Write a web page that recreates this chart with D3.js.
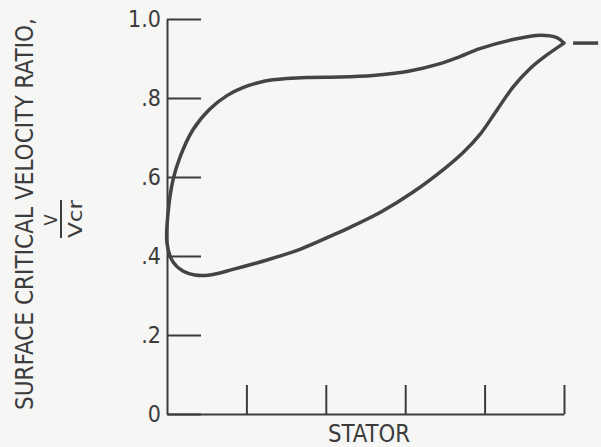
<!DOCTYPE html>
<html>
<head>
<meta charset="utf-8">
<script src="https://cdn.jsdelivr.net/npm/d3@7/dist/d3.min.js"></script>
<style>
  html, body { margin: 0; padding: 0; background: #f6f6f4; }
  svg { display: block; }
  text { font-family: "DejaVu Sans Condensed", "Liberation Sans Narrow", "DejaVu Sans", sans-serif; fill: #3c3c3c; }
</style>
</head>
<body>
<script>
// ---- data ----
const yTickValues = [0, 0.2, 0.4, 0.6, 0.8, 1.0];
const yTickLabels = ["0", ".2", ".4", ".6", ".8", "1.0"];
const xTickValues = [0.2, 0.4, 0.6, 0.8, 1.0];
const xLabel = "STATOR";
const yTitle = "SURFACE CRITICAL VELOCITY RATIO,";
const fracTop = "V";
const fracBottom = "Vcr";

// lower (pressure) surface from trailing edge back to leading edge
const lowerX = [1.0, 0.957, 0.914, 0.872, 0.830, 0.790, 0.746, 0.700, 0.620, 0.540, 0.460, 0.418, 0.335, 0.252, 0.166, 0.108, 0.070, 0.040, 0.015, 0.0];
const lowerY = [0.939, 0.909, 0.874, 0.828, 0.768, 0.710, 0.662, 0.622, 0.562, 0.512, 0.472, 0.453, 0.417, 0.390, 0.366, 0.352, 0.352, 0.362, 0.385, 0.432];
// upper (suction) surface from leading edge to trailing edge
const upperX = [0.003, 0.015, 0.033, 0.065, 0.108, 0.151, 0.191, 0.227, 0.267, 0.353, 0.436, 0.519, 0.605, 0.688, 0.738, 0.788, 0.872, 0.940, 0.982, 1.0];
const upperY = [0.512, 0.592, 0.651, 0.719, 0.772, 0.806, 0.826, 0.838, 0.846, 0.852, 0.853, 0.857, 0.867, 0.887, 0.905, 0.925, 0.948, 0.959, 0.953, 0.939];
// downstream dash
const dashX = [1.023, 1.086];
const dashY = [0.939, 0.939];

// ---- drawing ----
const W = 601, H = 447;
const svg = d3.select("body").append("svg").attr("width", W).attr("height", H);

const x = d3.scaleLinear().domain([0, 1]).range([167, 564]);
const y = d3.scaleLinear().domain([0, 1]).range([414, 19]);

const yAxis = d3.axisLeft(y)
  .tickValues(yTickValues)
  .tickFormat((d, i) => yTickLabels[i])
  .tickSizeInner(-34)
  .tickSizeOuter(0)
  .tickPadding(6);

const gy = svg.append("g").attr("transform", `translate(${x(0)},0)`).call(yAxis);
gy.selectAll("path.domain").attr("stroke", "#3c3c3c").attr("stroke-width", 2);
gy.selectAll(".tick line").attr("stroke", "#3c3c3c").attr("stroke-width", 2);
gy.selectAll(".tick text")
  .attr("font-size", 23)
  .attr("font-family", '"DejaVu Sans Condensed", "Liberation Sans Narrow", sans-serif')
  .attr("fill", "#3c3c3c");

const xAxis = d3.axisBottom(x)
  .tickValues(xTickValues)
  .tickFormat("")
  .tickSizeInner(-29)
  .tickSizeOuter(0);

const gx = svg.append("g").attr("transform", `translate(0,${y(0)})`).call(xAxis);
gx.selectAll("path.domain").attr("stroke", "#3c3c3c").attr("stroke-width", 2);
gx.selectAll(".tick line").attr("stroke", "#3c3c3c").attr("stroke-width", 2);

// x label
svg.append("text")
  .attr("x", 369).attr("y", 442)
  .attr("text-anchor", "middle")
  .attr("font-size", 25)
  .attr("textLength", 82).attr("lengthAdjust", "spacingAndGlyphs")
  .text(xLabel);

// y title
svg.append("text")
  .attr("transform", "translate(33,214) rotate(-90)")
  .attr("text-anchor", "middle")
  .attr("font-size", 25)
  .attr("textLength", 392).attr("lengthAdjust", "spacingAndGlyphs")
  .text(yTitle);

// fraction V / Vcr
svg.append("text")
  .attr("transform", "translate(57,220) rotate(-90)")
  .attr("text-anchor", "middle")
  .attr("font-size", 18)
  .text(fracTop);
svg.append("line")
  .attr("x1", 61).attr("x2", 61).attr("y1", 200).attr("y2", 238)
  .attr("stroke", "#3c3c3c").attr("stroke-width", 2);
svg.append("text")
  .attr("transform", "translate(82,219) rotate(-90)")
  .attr("text-anchor", "middle")
  .attr("font-size", 20)
  .attr("textLength", 38).attr("lengthAdjust", "spacingAndGlyphs")
  .text(fracBottom);

// distribution curve
const pts = lowerX.map((v, i) => [v, lowerY[i]])
  .concat(upperX.map((v, i) => [v, upperY[i]]));
const line = d3.line().x(d => x(d[0])).y(d => y(d[1])).curve(d3.curveCatmullRom.alpha(0.5));
svg.append("path")
  .attr("d", line(pts))
  .attr("fill", "none")
  .attr("stroke", "#444")
  .attr("stroke-width", 3.5)
  .attr("stroke-linejoin", "miter")
  .attr("stroke-linecap", "round");

svg.append("path")
  .attr("d", d3.line().x(d => x(d[0])).y(d => y(d[1]))(dashX.map((v, i) => [v, dashY[i]])))
  .attr("fill", "none")
  .attr("stroke", "#444")
  .attr("stroke-width", 3.5);
</script>
</body>
</html>
